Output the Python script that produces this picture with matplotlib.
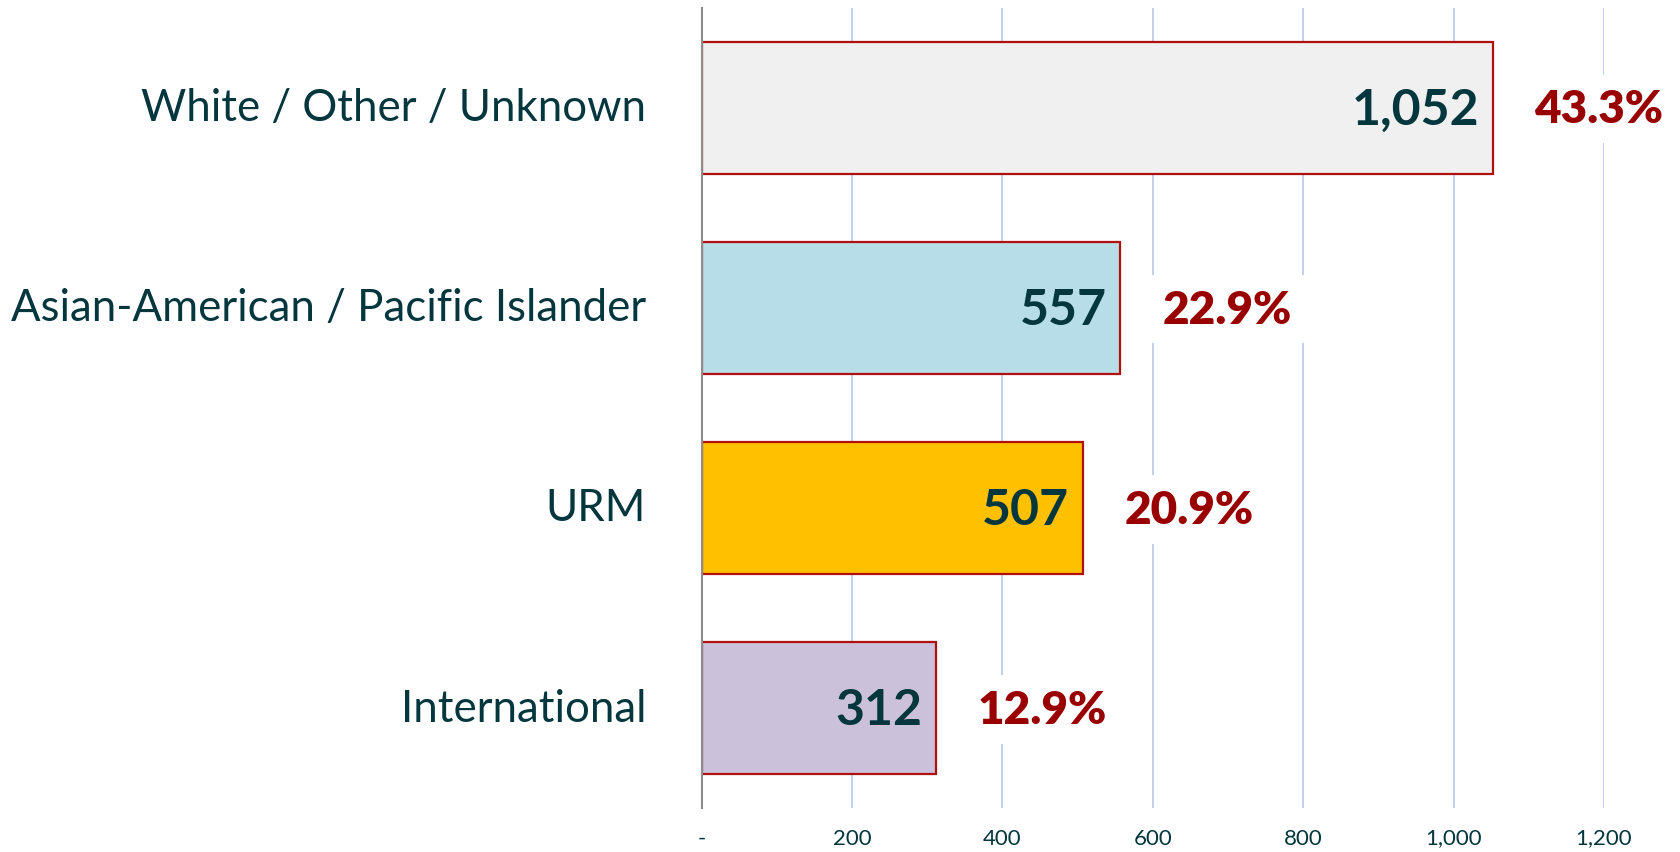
import numpy as np
import matplotlib.pyplot as plt
from matplotlib.ticker import FuncFormatter

# ---------------------------------------------
# data
# ---------------------------------------------
categories = ["White / Other / Unknown", "Asian-American / Pacific Islander", "URM", "International"]
counts = [1052, 557, 507, 312]
shares = ["43.3%", "22.9%", "20.9%", "12.9%"]
bar_colors = ["#F0F0F0", "#B7DEE8", "#FFC000", "#CCC1DA"]
xticks = [0, 200, 400, 600, 800, 1000, 1200]

TEAL = "#03363D"
RED = "#990000"

plt.rcParams["font.family"] = ["Lato", "DejaVu Sans"]

fig = plt.figure(figsize=(16.8, 8.53), dpi=100)
ax = fig.add_axes([0.4177, 0.0515, 0.5370, 0.9385])

y = np.arange(len(categories))
ax.barh(y, counts, height=0.66, color=bar_colors, edgecolor="#B01010",
        linewidth=1.6, zorder=3)

ax.set_ylim(len(categories) - 0.5, -0.5)
ax.set_xlim(0, 1200)

# value labels inside bars, percent labels outside
for yi, c, s in zip(y, counts, shares):
    ax.annotate(f"{c:,}", (c, yi), xytext=(-10, -1), textcoords="offset points",
                ha="right", va="center", fontsize=36, fontweight="bold",
                color=TEAL, zorder=4)
    ax.annotate(s, (c, yi), xytext=(30, -1), textcoords="offset points",
                ha="left", va="center", fontsize=33, fontweight="heavy",
                color=RED, zorder=4, annotation_clip=False,
                bbox=dict(boxstyle="square,pad=0.3", fc="white", ec="none"))

# axes styling
ax.set_yticks(y)
ax.set_yticklabels(categories, fontsize=31.5, color=TEAL, va="center")
ax.tick_params(axis="y", length=0, pad=40)

ax.set_xticks(xticks)
ax.xaxis.set_major_formatter(FuncFormatter(lambda v, p: "-" if v == 0 else f"{int(v):,}"))
ax.tick_params(axis="x", length=0, pad=14, labelsize=16, labelcolor=TEAL)

ax.grid(axis="x", color="#B4C7E7", linewidth=1.2, zorder=0)
ax.set_axisbelow(True)

for side in ["top", "right", "bottom"]:
    ax.spines[side].set_visible(False)
ax.spines["left"].set_color("#8C8C8C")
ax.spines["left"].set_linewidth(1.5)
ax.spines["left"].set_zorder(5)

plt.savefig("out.png", dpi=100)
